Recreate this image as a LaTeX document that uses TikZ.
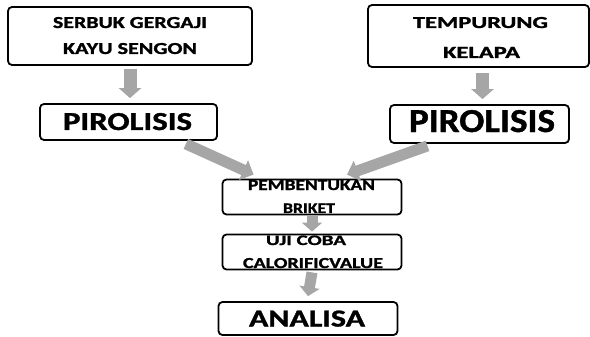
\documentclass[tikz,border=0pt]{standalone}
\usepackage{fontspec}
\setmainfont{Carlito}
\newfontfamily\heavy{Carlito}[BoldFeatures={FakeBold=1.2}]
\usetikzlibrary{arrows.meta}
\definecolor{agray}{RGB}{166,166,166}
\newcommand{\fitx}[3]{\resizebox{#1pt}{#2pt}{\heavy\bfseries #3}}
\begin{document}
\begin{tikzpicture}[x=1pt,y=-1pt,
  box/.style={draw=black, line width=1.8pt, rounded corners=4pt, inner sep=0pt},
  lbl/.style={inner sep=0pt, anchor=base, font=\bfseries},
  vbig/.style={draw=agray, line width=13pt, -{Triangle[width=22pt,length=10pt]}},
  vsmall/.style={draw=agray, line width=11pt, -{Triangle[width=20pt,length=9pt]}},
  dbig/.style={draw=agray, line width=11pt, -{Triangle[width=21pt,length=11pt]}}]
\useasboundingbox (0,0) rectangle (590,337);
% texts
\node[lbl] (t1) at (130,28) {\fitx{154}{11}{SERBUK GERGAJI}};
\node[lbl] (t2) at (130,54) {\fitx{134}{11}{KAYU SENGON}};
\node[lbl] (t3) at (480.5,28) {\fitx{135}{11}{TEMPURUNG}};
\node[lbl] (t4) at (481.5,58) {\fitx{77}{11}{KELAPA}};
\node[lbl] (t5) at (127.5,130) {\fitx{129}{17}{PIROLISIS}};
\node[lbl] (t6) at (482,132) {\fitx{146}{22}{PIROLISIS}};
\node[lbl] (t7) at (311.5,190) {\fitx{127}{10}{PEMBENTUKAN}};
\node[lbl] (t8) at (309,213) {\fitx{52}{9.5}{BRIKET}};
\node[lbl] (t9) at (306,245) {\fitx{80}{9.5}{UJI COBA}};
\node[lbl] (t10) at (313,268) {\fitx{140}{10}{CALORIFICVALUE}};
\node[lbl] (t11) at (307,326.5) {\fitx{116}{16}{ANALISA}};
% boxes
\node[box, minimum width=244pt, minimum height=58pt] (s1) at (130,36) {};
\node[box, minimum width=221pt, minimum height=62pt] (s2) at (478.5,36) {};
\node[box, minimum width=177pt, minimum height=36pt] (p1) at (128.5,122) {};
\node[box, minimum width=179pt, minimum height=38pt] (p2) at (479.5,124) {};
\node[box, minimum width=179pt, minimum height=35pt] (b) at (312,197) {};
\node[box, minimum width=179pt, minimum height=35pt] (u) at (312,252) {};
\node[box, minimum width=179pt, minimum height=33pt] (a) at (308,318.5) {};
% arrows
\draw[vbig] ([yshift=-3pt]s1.south) -- ([yshift=5pt]s1.south |- p1.north);
\draw[vbig] ([xshift=4pt,yshift=-5pt]s2.south) -- ([xshift=4pt,yshift=5pt]s2.south |- p2.north);
\draw[dbig] ([xshift=-32pt,yshift=-3pt]p1.south east) -- ([xshift=32pt,yshift=4pt]b.north west);
\draw[dbig] ([xshift=-52pt,yshift=-2pt]p2.south) -- ([xshift=35pt,yshift=4pt]b.north);
\draw[vsmall] ([xshift=0pt,yshift=-1pt]b.south) -- ([yshift=2pt]u.north);
\draw[vsmall] ([xshift=0pt,yshift=-2pt]u.south) -- ([yshift=5pt]a.north);
\end{tikzpicture}
\end{document}
